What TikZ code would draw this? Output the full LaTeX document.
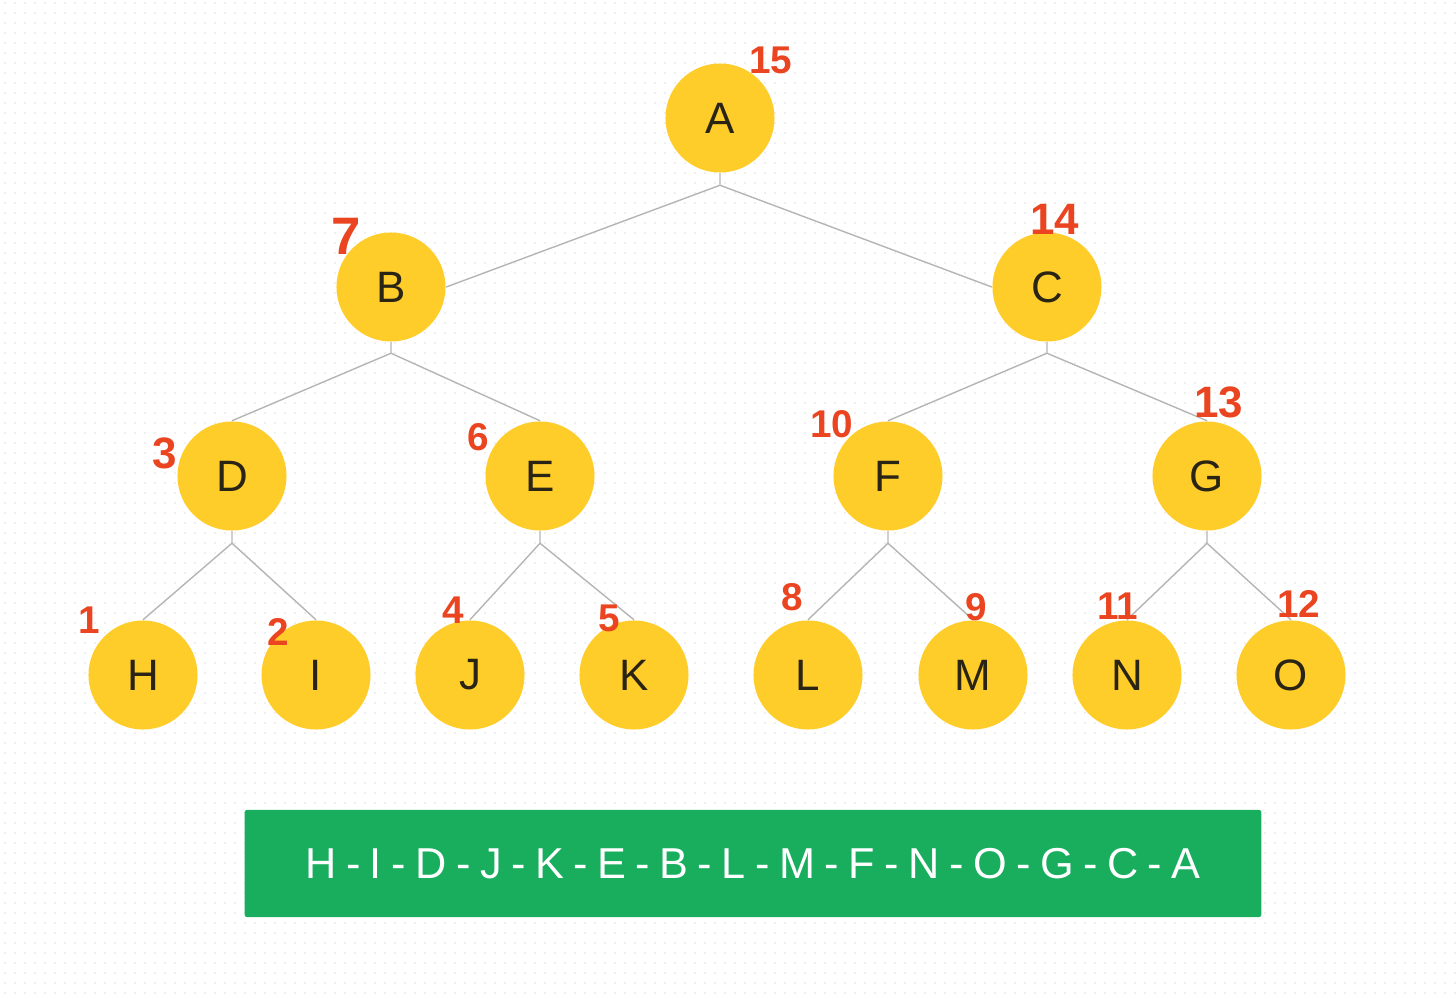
\documentclass[tikz,border=0pt]{standalone}
\usepackage{fontspec}
\setmainfont{Liberation Sans}
\usetikzlibrary{positioning}
\definecolor{nodeyellow}{HTML}{FFCD29}
\definecolor{letterdark}{HTML}{2A2415}
\definecolor{edgegray}{HTML}{B5B5B5}
\definecolor{penred}{HTML}{EA4520}
\definecolor{bargreen}{HTML}{18AE5E}
\definecolor{griddot}{HTML}{D9D9D9}
\newcommand{\tightspaces}{\spaceskip 2.7pt\relax}

\begin{document}
\begin{tikzpicture}[x=0.01cm, y=-0.01cm,
  vertex/.style={circle, fill=nodeyellow, minimum size=1.09cm, inner sep=0pt,
    text=letterdark, font=\fontsize{12.5}{15}\selectfont},
  edge/.style={draw=edgegray, line width=0.4pt},
  visit/.style={text=penred, inner sep=0pt, font=\fontsize{11}{13}\selectfont\bfseries}]
  \useasboundingbox (0,0) rectangle (1456,994);
  \foreach \j in {0,...,99}
    \fill[griddot] \foreach \i in {0,...,145} {(4.4+10*\i,2.4+10*\j) rectangle ++(1.2,1.2)};

  \node[vertex] (A) at (720,118) {A};
  \node[vertex] (B) at (391,287) {B};
  \node[vertex] (C) at (1047,287) {C};
  \node[vertex] (D) at (232,476) {D};
  \node[vertex] (E) at (540,476) {E};
  \node[vertex] (F) at (888,476) {F};
  \node[vertex] (G) at (1207,476) {G};
  \node[vertex] (H) at (143,675) {H};
  \node[vertex] (I) at (316,675) {I};
  \node[vertex] (J) at (470,675) {J};
  \node[vertex] (K) at (634,675) {K};
  \node[vertex] (L) at (808,675) {L};
  \node[vertex] (M) at (973,675) {M};
  \node[vertex] (N) at (1127,675) {N};
  \node[vertex] (O) at (1291,675) {O};

  \coordinate[below=0.12cm of A] (As);
  \coordinate[below=0.11cm of B] (Bs);
  \coordinate[below=0.11cm of C] (Cs);
  \coordinate[below=0.12cm of D] (Ds);
  \coordinate[below=0.12cm of E] (Es);
  \coordinate[below=0.12cm of F] (Fs);
  \coordinate[below=0.12cm of G] (Gs);
  \draw[edge] (A) -- (As) -- (B.east) (As) -- (C.west);
  \draw[edge] (B) -- (Bs) -- (D.north) (Bs) -- (E.north);
  \draw[edge] (C) -- (Cs) -- (F.north) (Cs) -- (G.north);
  \draw[edge] (D) -- (Ds) -- (H.north) (Ds) -- (I.north);
  \draw[edge] (E) -- (Es) -- (J.north) (Es) -- (K.north);
  \draw[edge] (F) -- (Fs) -- (L.north) (Fs) -- (M.north);
  \draw[edge] (G) -- (Gs) -- (N.north) (Gs) -- (O.north);

  \node[visit] (n15) at (771,60) {15};
  \node[visit, font=\fontsize{15}{17}\selectfont\bfseries] (n7) at (346,236) {7};
  \node[visit, font=\fontsize{12.5}{15}\selectfont\bfseries] (n14) at (1055,219) {14};
  \node[visit, font=\fontsize{12.5}{15}\selectfont\bfseries] (n3) at (165,453) {3};
  \node[visit] (n6) at (478,437) {6};
  \node[visit] (n10) at (832,424) {10};
  \node[visit, font=\fontsize{12.5}{15}\selectfont\bfseries] (n13) at (1219,402) {13};
  \node[visit] (n1) at (89,620) {1};
  \node[visit] (n2) at (278,632) {2};
  \node[visit] (n4) at (453,610) {4};
  \node[visit] (n5) at (609,618) {5};
  \node[visit] (n8) at (792,597) {8};
  \node[visit] (n9) at (976,607) {9};
  \node[visit] (n11) at (1118,606) {11};
  \node[visit] (n12) at (1299,604) {12};

  \node[fill=bargreen, rounded corners=0.6pt, minimum width=10.16cm, minimum height=1.07cm,
    text=white, font=\fontsize{12.3}{14}\selectfont] (postorder) at (753,863.5)
    {\tightspaces H - I - D - J - K - E - B - L - M - F - N - O - G - C - A};
\end{tikzpicture}
\end{document}
